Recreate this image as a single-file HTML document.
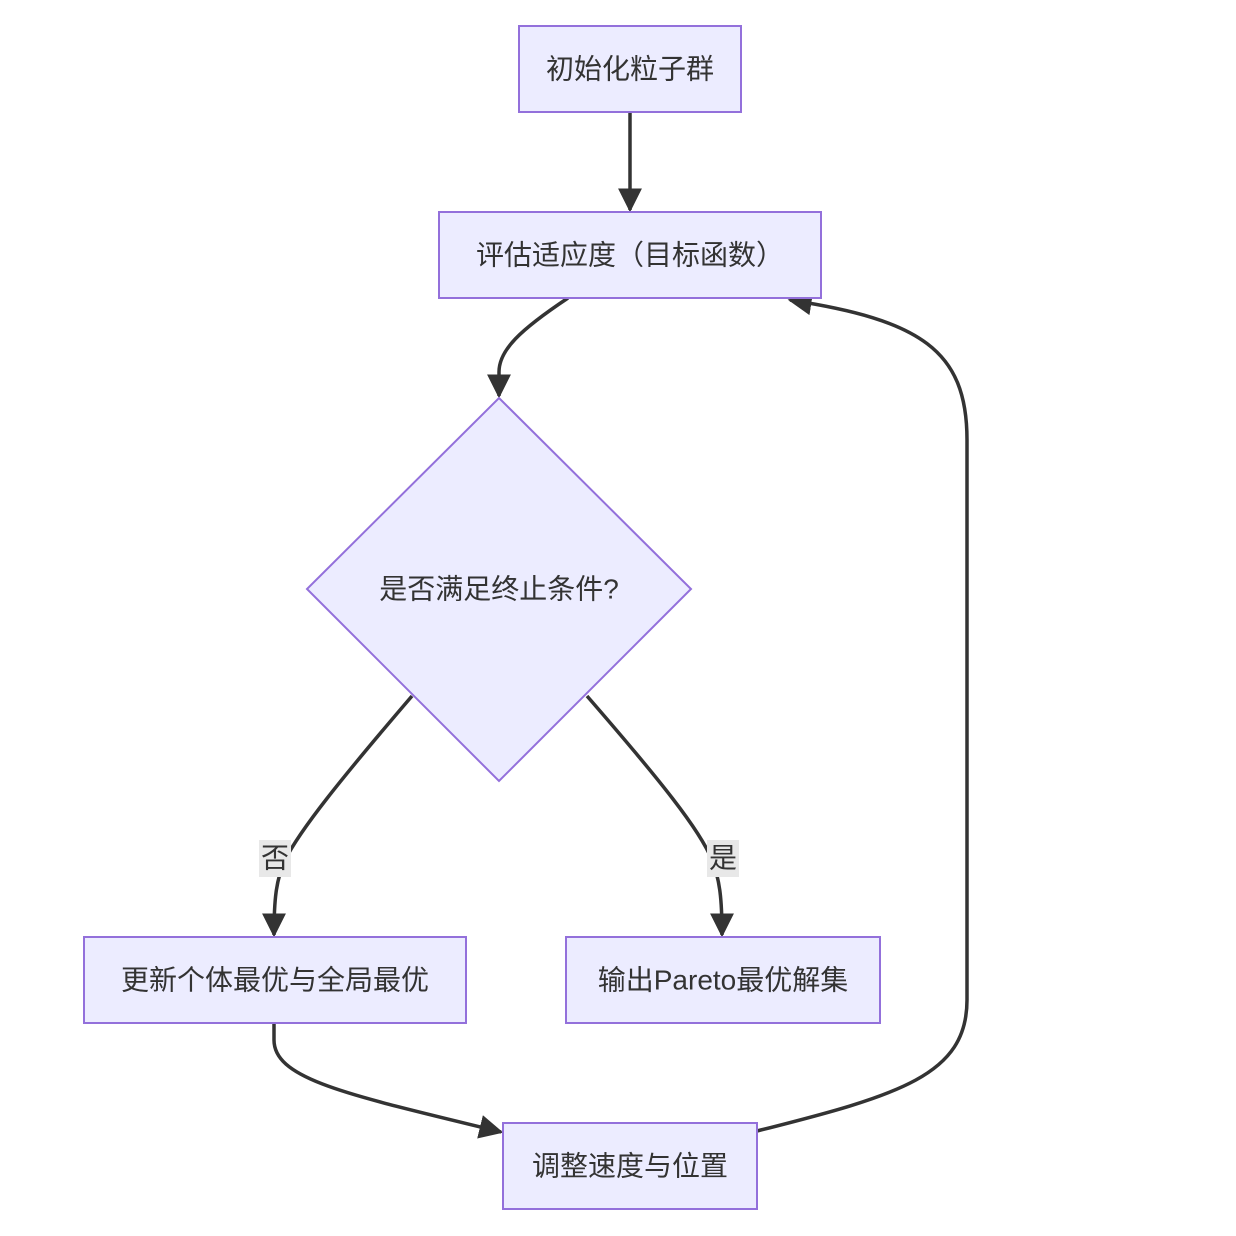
<!DOCTYPE html>
<html><head><meta charset="utf-8"><style>
html,body{margin:0;padding:0;background:#fff;}
svg{display:block;}
text{font-family:"Liberation Sans","Noto Sans CJK SC",sans-serif;fill:#333;font-size:28px;}
</style></head><body>
<svg width="1236" height="1236" viewBox="0 0 1236 1236" xmlns="http://www.w3.org/2000/svg">
<defs>
<marker id="a" markerWidth="12" markerHeight="12" refX="10" refY="5" orient="auto" markerUnits="userSpaceOnUse" viewBox="0 0 10 10">
</marker>
<marker id="ar" viewBox="0 0 10 10" refX="9" refY="5" markerWidth="24" markerHeight="24" markerUnits="userSpaceOnUse" orient="auto">
<path d="M0,0 L10,5 L0,10 z" fill="#333"/>
</marker>
</defs>
<g fill="none" stroke="#333" stroke-width="3.5">
<path d="M630,112 L630,210" marker-end="url(#ar)"/>
<path d="M568,298 C520,330 499,350 499,372 L499,396" marker-end="url(#ar)"/>
<path d="M412,696 C340,780 300,830 285,860 C276,880 274,900 274,935" marker-end="url(#ar)"/>
<path d="M587,696 C660,780 700,830 712,860 C720,880 722,900 722,935" marker-end="url(#ar)"/>
<path d="M274,1023 L274,1040 C274,1080 350,1095 501,1132" marker-end="url(#ar)"/>
<path d="M757,1131 C900,1095 967,1075 967,1000 L967,440 C967,350 920,320 790,300" marker-end="url(#ar)"/>
</g>
<g fill="#ECECFF" stroke="#9370DB" stroke-width="2">
<rect x="519" y="26" width="222" height="86"/>
<rect x="439" y="212" width="382" height="86"/>
<polygon points="499,398 691,589 499,781 307,589"/>
<rect x="84" y="937" width="382" height="86"/>
<rect x="566" y="937" width="314" height="86"/>
<rect x="503" y="1123" width="254" height="86"/>
</g>
<rect x="259" y="840" width="32" height="37" fill="#e8e8e8"/>
<rect x="707" y="840" width="32" height="37" fill="#e8e8e8"/>
<g text-anchor="middle" dominant-baseline="central">
<text x="630" y="69">初始化粒子群</text>
<text x="630" y="255">评估适应度（目标函数）</text>
<text x="499" y="589">是否满足终止条件?</text>
<text x="275" y="858">否</text>
<text x="723" y="858">是</text>
<text x="275" y="980">更新个体最优与全局最优</text>
<text x="723" y="980">输出Pareto最优解集</text>
<text x="630" y="1166">调整速度与位置</text>
</g>
</svg>
</body></html>
